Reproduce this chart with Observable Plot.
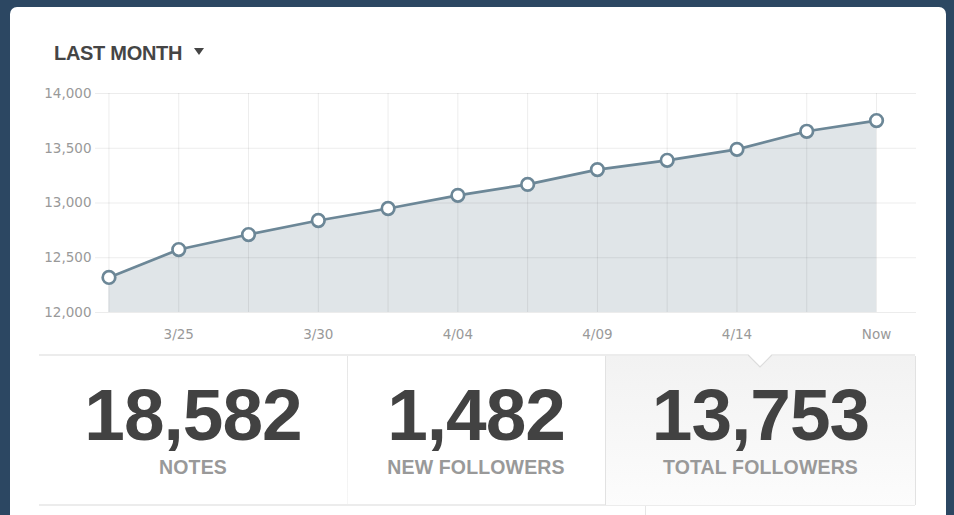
<!DOCTYPE html>
<html>
<head>
<meta charset="utf-8">
<script src="https://cdn.jsdelivr.net/npm/d3@7"></script>
<script src="https://cdn.jsdelivr.net/npm/@observablehq/plot@0.6"></script>
<style>
  html, body { margin: 0; padding: 0; }
  body { width: 954px; height: 515px; background: #2c4762; position: relative; overflow: hidden;
         font-family: "Liberation Sans", Arial, sans-serif; }
  #card { position: absolute; left: 10px; top: 7px; width: 936px; height: 540px; background: #fff; border-radius: 7px; }
  #title { position: absolute; left: 54px; top: 43px; font-size: 20px; line-height: 20px; font-weight: bold;
           color: #454545; letter-spacing: -0.3px; white-space: nowrap; }
  #caret { position: absolute; left: 194px; top: 48px; width: 0; height: 0;
           border-left: 5.5px solid transparent; border-right: 5.5px solid transparent; border-top: 7px solid #454545; }
  #chart { position: absolute; left: 0; top: 80px; }
  .hline { position: absolute; height: 2px; background: #ececec; }
  .vline { position: absolute; width: 1px; }
  .cell { position: absolute; top: 356px; height: 149px; }
  .cell.sel { background: linear-gradient(#f2f2f2, #fcfcfc); border-left: 1px solid #e2e2e2; border-right: 1px solid #e2e2e2; box-sizing: border-box; }
  .num { position: absolute; left: 0; right: 0; top: 22px; text-align: center; font-size: 73px; line-height: 73px;
         font-weight: bold; color: #424242; letter-spacing: -1px; }
  .lab { position: absolute; left: 0; right: 0; top: 102px; text-align: center; font-size: 19.5px; line-height: 19.5px;
         font-weight: bold; color: #999; letter-spacing: 0.15px; }
  #notch { position: absolute; left: 748px; top: 354px; }
</style>
</head>
<body>
<div id="card"></div>
<div id="title">LAST MONTH</div>
<div id="caret"></div>
<div id="chart"></div>
<div id="stats"></div>
<script>
// ---- data ----
const pointIndex = [0, 1, 2, 3, 4, 5, 6, 7, 8, 9, 10, 11];
const totalFollowers = [12320, 12575, 12712, 12840, 12950, 13070, 13170, 13305, 13390, 13490, 13655, 13753];
const xTickIndex = [1, 3, 5, 7, 9, 11];
const xTickLabels = ["3/25", "3/30", "4/04", "4/09", "4/14", "Now"];
const yTicks = [12000, 12500, 13000, 13500, 14000];
const statValues = ["18,582", "1,482", "13,753"];
const statLabels = ["NOTES", "NEW FOLLOWERS", "TOTAL FOLLOWERS"];

const rows = pointIndex.map((i, k) => ({i, v: totalFollowers[k]}));
const lineColor = "#6c8797";

const chart = Plot.plot({
  width: 954,
  height: 270,
  marginLeft: 95,
  marginRight: 38,
  marginTop: 13,
  marginBottom: 38,
  style: {fontFamily: "'DejaVu Sans', Verdana, sans-serif", fontSize: "13.5px", background: "transparent", overflow: "visible"},
  x: {domain: [-0.193, 11.573]},
  y: {domain: [12000, 14000]},
  marks: [
    Plot.areaY(rows, {x: "i", y1: 12000, y2: "v", fill: "#e0e5e8"}),
    Plot.ruleY(yTicks, {stroke: "#000", strokeOpacity: 0.075}),
    Plot.ruleX(pointIndex, {y1: 12000, y2: 14000, stroke: "#000", strokeOpacity: 0.075}),
    Plot.line(rows, {x: "i", y: "v", stroke: lineColor, strokeWidth: 2.7}),
    Plot.dot(rows, {x: "i", y: "v", r: 6.3, fill: "#fff", stroke: lineColor, strokeWidth: 2.7}),
    Plot.axisY(yTicks, {tickSize: 0, tickPadding: 4, tickFormat: d3.format(","), color: "#999", label: null}),
    Plot.axisX(xTickIndex, {tickSize: 0, tickPadding: 17, tickFormat: d => xTickLabels[xTickIndex.indexOf(d)], color: "#999", label: null})
  ]
});
document.getElementById("chart").appendChild(chart);

// ---- stats panel ----
const stats = document.getElementById("stats");
const cells = [[39, 347], [347, 605], [605, 915]];
stats.innerHTML += `<div class="hline" style="left:39px;width:876px;top:354px"></div>`;
stats.innerHTML += `<div class="hline" style="left:39px;width:876px;top:504px"></div>`;
cells.forEach(([a, b], k) => {
  const sel = k === 2 ? " sel" : "";
  stats.innerHTML += `<div class="cell${sel}" style="left:${a}px;width:${b - a + (sel ? 1 : 0)}px">
    <div class="num">${statValues[k]}</div><div class="lab">${statLabels[k]}</div></div>`;
});
stats.innerHTML += `<div class="vline" style="left:347px;top:356px;height:148px;background:linear-gradient(#e6e6e6,#f6f6f6)"></div>`;
stats.innerHTML += `<div class="vline" style="left:645px;top:506px;height:12px;background:#e6e6e6"></div>`;
stats.innerHTML += `<svg id="notch" width="24" height="16"><polygon points="0,0 24,0 12,13" fill="#fff"/>
  <polyline points="0,1 12,13 24,1" fill="none" stroke="#dcdcdc" stroke-width="1.2"/></svg>`;
</script>
</body>
</html>
